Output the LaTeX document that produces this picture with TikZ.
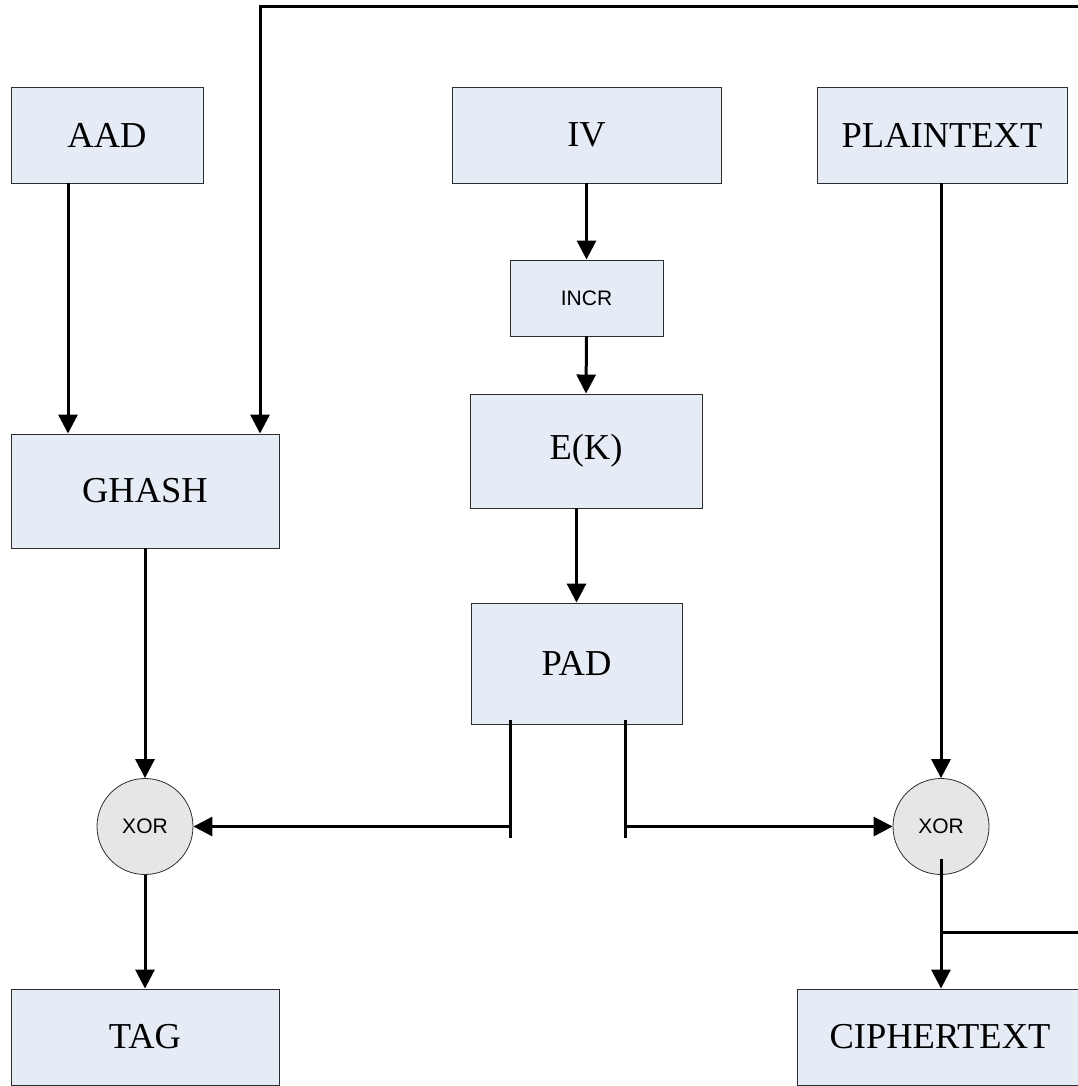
\documentclass[tikz,border=0pt]{standalone}
\usepackage{fontspec}
\setmainfont{Liberation Serif}
\newfontfamily\labelsans{Liberation Sans}
\usetikzlibrary{arrows.meta}
\definecolor{boxfill}{RGB}{230,236,246}
\definecolor{xorfill}{RGB}{230,230,230}
\definecolor{edgegray}{RGB}{45,45,45}
\begin{document}
\begin{tikzpicture}[x=1pt,y=-1pt,
  block/.style={draw=edgegray, line width=0.9pt, fill=boxfill, inner sep=0pt,
                font=\fontsize{36.5}{40}\selectfont},
  smallblock/.style={block, font=\labelsans\fontsize{21}{24}\selectfont},
  xorgate/.style={circle, draw=edgegray, line width=0.8pt, fill=xorfill,
                  minimum size=96pt, inner sep=0pt,
                  font=\labelsans\fontsize{21}{24}\selectfont},
  wire/.style={line width=3pt},
  flow/.style={wire, -{Triangle[length=19pt,width=19pt]}}]

\useasboundingbox (0,0) rectangle (1077,1086);

% inputs
\node[block, minimum width=192pt, minimum height=96pt] (aad)   at (107,135)   {AAD};
\node[block, minimum width=269pt, minimum height=96pt] (iv)    at (586.5,135) {IV};
\node[block, minimum width=250pt, minimum height=96pt] (plain) at (942,135)   {PLAINTEXT};

% counter path
\node[smallblock, minimum width=153pt, minimum height=76pt] (incr) at (586.5,298) {INCR};
\node[block, minimum width=232pt, minimum height=114pt] (ek)  at (586,451)   {E(K)};
\node[block, minimum width=211pt, minimum height=121pt] (pad) at (576.5,663.5) {PAD};

% authentication
\node[block, minimum width=268pt, minimum height=114pt] (ghash) at (145,491) {GHASH};

% combiners
\node[xorgate] (xorL) at (145,826.5) {XOR};
\node[xorgate] (xorR) at (941,826.5) {XOR};

% outputs
\node[block, minimum width=268pt, minimum height=96pt] (tag)    at (145,1037) {TAG};
\node[block, minimum width=286pt, minimum height=96pt] (cipher) at (940,1037) {CIPHERTEXT};

% helper points
\coordinate (feedIn)  at (1085,7);
\coordinate (hkey)    at (260,7);
\coordinate (aadx)    at (68,0);
\coordinate (padL)    at (510,720);
\coordinate (padLend) at (510,838);
\coordinate (padR)    at (625,720);
\coordinate (padRend) at (625,838);
\coordinate (ctStart) at (941,859);
\coordinate (ctTap)   at (1085,932);

% connectors
\draw[flow] (feedIn) -- (hkey) -- (hkey |- ghash.north);
\draw[flow] (aad.south -| aadx) -- (ghash.north -| aadx);
\draw[flow] (iv.south) -- (incr.north);
\draw[flow] (incr.south) -- (ek.north);
\draw[flow] (ek.south -| pad.north) -- (pad.north);
\draw[flow] (ghash.south) -- (xorL.north);
\draw[flow] (xorL.south) -- (tag.north);
\draw[flow] (plain.south -| xorR.north) -- (xorR.north);

\draw[wire] (padL) -- (padLend);
\draw[flow] (padL |- xorL.east) -- (xorL.east);
\draw[wire] (padR) -- (padRend);
\draw[flow] (padR |- xorR.west) -- (xorR.west);

\draw[flow] (ctStart) -- (cipher.north -| ctStart);
\draw[wire] (ctStart |- ctTap) -- (ctTap);
\end{tikzpicture}
\end{document}
